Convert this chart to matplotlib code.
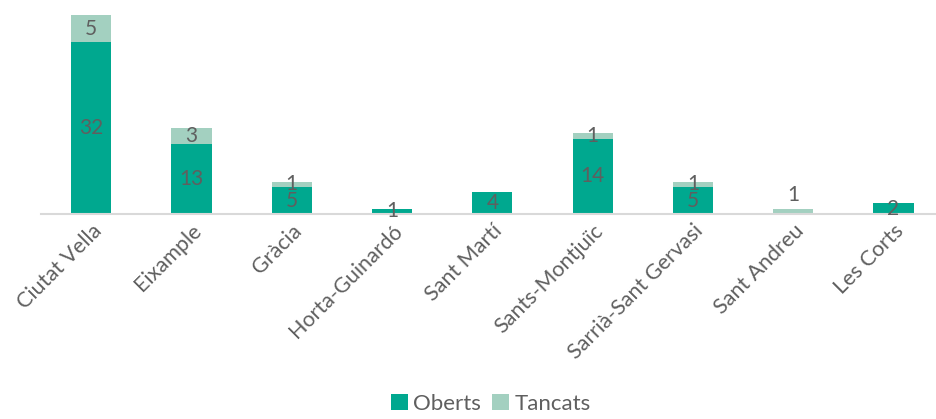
import matplotlib
matplotlib.use("Agg")
import matplotlib.pyplot as plt
import numpy as np

categories = ["Ciutat Vella", "Eixample", "Gràcia", "Horta-Guinardó", "Sant Martí",
              "Sants-Montjuïc", "Sarrià-Sant Gervasi", "Sant Andreu", "Les Corts"]
oberts = [32, 13, 5, 1, 4, 14, 5, 0, 2]
tancats = [5, 3, 1, 0, 0, 1, 1, 1, 0]

c_ob = "#00A88F"
c_ta = "#A3D0C0"
txt = "#5F5F5F"

plt.rcParams['font.family'] = ['Lato', 'DejaVu Sans']

fig = plt.figure(figsize=(9.37, 4.19), dpi=100)
ax = fig.add_axes([41/937, (419-214)/419, (937-41)/937, 214/419])

x = np.arange(len(categories))
w = 0.4
ax.bar(x, oberts, width=w, color=c_ob, label="Oberts", zorder=2)
ax.bar(x, tancats, width=w, bottom=oberts, color=c_ta, label="Tancats", zorder=2)

for i in range(len(categories)):
    if oberts[i] > 0:
        ax.text(x[i], oberts[i] / 2, str(oberts[i]), ha='center', va='center',
                fontsize=15, color=txt, zorder=3)
    if tancats[i] > 0:
        if oberts[i] == 0:
            y = tancats[i] + 2.5
        else:
            y = oberts[i] + tancats[i] / 2
        ax.text(x[i], y, str(tancats[i]), ha='center', va='center',
                fontsize=15, color=txt, zorder=3)

ax.set_xlim(-0.5, -0.5 + 896/100.3)
ax.set_ylim(0, 214/5.375)
for s in ['top', 'right', 'left']:
    ax.spines[s].set_visible(False)
ax.spines['bottom'].set_color('#D9D9D9')
ax.spines['bottom'].set_linewidth(1.5)
ax.set_yticks([])
ax.set_xticks(x)
ax.set_xticklabels(categories, rotation=45, ha='right', rotation_mode='anchor',
                   fontsize=15.5, color=txt)
ax.tick_params(axis='x', length=0, pad=5)

fig.legend(loc='lower center', bbox_to_anchor=(491/937, -0.035), ncol=2, frameon=False,
           fontsize=16, labelcolor=txt, handlelength=0.75, handleheight=0.75,
           handletextpad=0.25, columnspacing=0.5)

fig.savefig("out.png", dpi=100)
